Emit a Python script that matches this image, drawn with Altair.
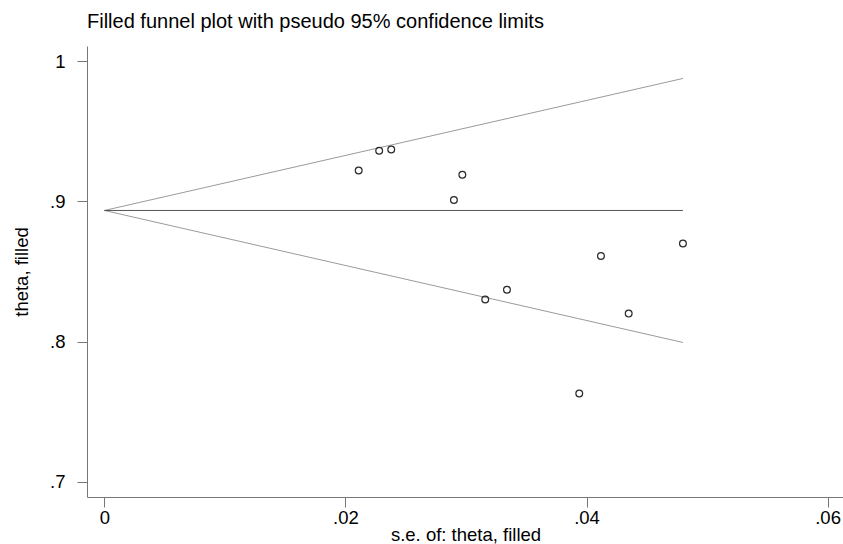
import altair as alt
import pandas as pd

# Study estimates (x = standard error, y = theta)
se_values = [0.0211, 0.0228, 0.0238, 0.0297, 0.0290, 0.0316, 0.0334, 0.0412, 0.0435, 0.0394, 0.0480]
theta_values = [0.922, 0.936, 0.937, 0.919, 0.901, 0.830, 0.837, 0.861, 0.820, 0.763, 0.870]

pooled_theta = 0.8935
se_max = 0.0480
z = 1.96

x_ticks = [0, 0.02, 0.04, 0.06]
x_labels = ["0", ".02", ".04", ".06"]
y_ticks = [0.7, 0.8, 0.9, 1.0]
y_labels = [".7", ".8", ".9", "1"]

FONT = "Liberation Sans"

points = pd.DataFrame({"se": se_values, "theta": theta_values})

funnel = pd.DataFrame({
    "se": [0, se_max, 0, se_max],
    "theta": [pooled_theta, pooled_theta + z * se_max, pooled_theta, pooled_theta - z * se_max],
    "limit": ["upper", "upper", "lower", "lower"],
})
center = pd.DataFrame({"se": [0, se_max], "theta": [pooled_theta, pooled_theta]})

def lbl_expr(vals, labels):
    parts = []
    for v, l in zip(vals, labels):
        parts.append(f"abs(datum.value - {v}) < 1e-9 ? '{l}'")
    return " : ".join(parts) + " : ''"

x_scale = alt.Scale(domain=[-0.00144, 0.06128], nice=False, zero=False)
y_scale = alt.Scale(domain=[0.6893, 1.0107], nice=False, zero=False)

x_axis = alt.Axis(
    values=x_ticks, labelExpr=lbl_expr(x_ticks, x_labels), title="s.e. of: theta, filled",
    grid=False, tickSize=10, labelPadding=16.5, labelBaseline="alphabetic",
    labelFontSize=18.5, titleFontSize=18.5, labelFont=FONT, titleFont=FONT,
    titleFontWeight="normal", labelColor="#000", titleColor="#000",
    domainColor="#777", tickColor="#777", titleY=43.5, titleBaseline="alphabetic",
    titleX=378.5, titleAnchor="middle", labelFlush=False,
)
y_axis = alt.Axis(
    values=y_ticks, labelExpr=lbl_expr(y_ticks, y_labels), title="theta, filled",
    grid=False, tickSize=10, labelPadding=12,
    labelFontSize=18.5, titleFontSize=18.5, labelFont=FONT, titleFont=FONT,
    titleFontWeight="normal", labelColor="#000", titleColor="#000",
    domainColor="#777", tickColor="#777", titleX=-65.5, titleY=225.5,
    titleAngle=270, titleAlign="center", titleBaseline="middle", labelFlush=False,
)

funnel_lines = alt.Chart(funnel).mark_line(color="#9a9a9a", strokeWidth=1).encode(
    x=alt.X("se:Q", scale=x_scale, axis=x_axis),
    y=alt.Y("theta:Q", scale=y_scale, axis=y_axis),
    detail="limit:N",
)
center_line = alt.Chart(center).mark_line(color="#555555", strokeWidth=1).encode(
    x=alt.X("se:Q", scale=x_scale),
    y=alt.Y("theta:Q", scale=y_scale),
)
pts = alt.Chart(points).mark_point(
    shape="circle", filled=False, color="#2a2a2a", size=46, strokeWidth=1.2, opacity=1
).encode(
    x=alt.X("se:Q", scale=x_scale),
    y=alt.Y("theta:Q", scale=y_scale),
)

chart = alt.layer(funnel_lines, center_line, pts).properties(
    width=756, height=451,
    title=alt.TitleParams(
        "Filled funnel plot with pseudo 95% confidence limits",
        anchor="start", frame="group", offset=0, dy=2, baseline="alphabetic",
        font=FONT, fontSize=20, fontWeight="normal", color="#000",
    ),
    autosize=alt.AutoSizeParams(type="none"),
    padding={"left": 87, "top": 46, "right": 0, "bottom": 47},
    background="white",
).configure_view(stroke=None)

chart.save("out.html", embed_options={"renderer": "svg", "actions": False})
